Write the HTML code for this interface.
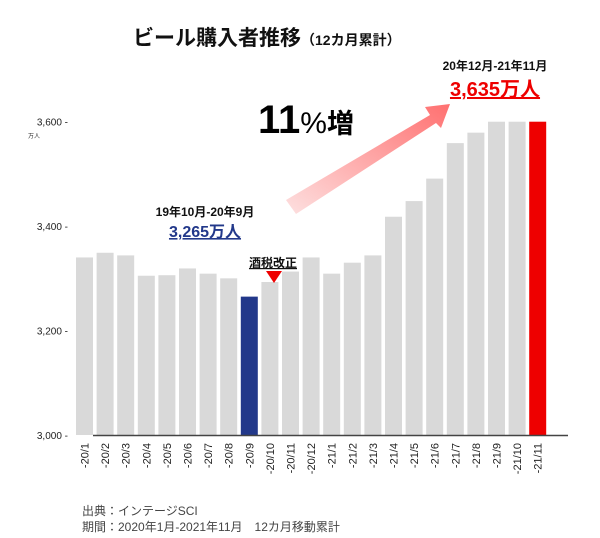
<!DOCTYPE html>
<html><head><meta charset="utf-8"><style>
body{margin:0;background:#fff;font-family:"Liberation Sans","Noto Sans CJK JP",sans-serif;}
svg{display:block}
</style></head><body>
<svg width="600" height="538" viewBox="0 0 600 538">
<defs>
<linearGradient id="ag" x1="0" y1="1" x2="1" y2="0">
<stop offset="0" stop-color="#fde0e0"/><stop offset="1" stop-color="#ff7070"/>
</linearGradient>
</defs>
<text x="133" y="45" font-size="21" font-weight="bold" fill="#111">ビール購入者推移<tspan font-size="14">（12カ月累計）</tspan></text>
<g id="axis"></g>
<g id="bars"></g>
<g id="xlabels"></g>
<text x="28" y="138" font-size="6" fill="#333">万人</text>
<polygon points="286,200 430,115 425,107 450,104 441,128 436,123 296,214" fill="url(#ag)"/>
<text x="258" y="133" font-size="40" font-weight="bold" fill="#000">11<tspan font-size="30" font-weight="normal">%</tspan><tspan font-size="27">増</tspan></text>
<text x="205" y="216" text-anchor="middle" font-size="12" font-weight="bold" fill="#111">19年10月-20年9月</text>
<text x="205" y="237" text-anchor="middle" font-size="16" font-weight="bold" fill="#22388a" text-decoration="underline">3,265万人</text>
<text x="495" y="70" text-anchor="middle" font-size="12" font-weight="bold" fill="#111">20年12月-21年11月</text>
<text x="495" y="96" text-anchor="middle" font-size="20" font-weight="bold" fill="#ee0000" text-decoration="underline">3,635万人</text>
<text x="273" y="267" text-anchor="middle" font-size="12" font-weight="bold" fill="#111" text-decoration="underline">酒税改正</text>
<polygon points="266,271 282,271 274,283" fill="#e00"/>
<text x="82" y="515" font-size="12" fill="#444">出典：インテージSCI</text>
<text x="82" y="531" font-size="12" fill="#444">期間：2020年1月-2021年11月　12カ月移動累計</text>
</svg>
<script>
const categories=["-20/1","-20/2","-20/3","-20/4","-20/5","-20/6","-20/7","-20/8","-20/9","-20/10","-20/11","-20/12","-21/1","-21/2","-21/3","-21/4","-21/5","-21/6","-21/7","-21/8","-21/9","-21/10","-21/11"];
const values=[3340,3349,3344,3305,3306,3319,3309,3300,3265,3293,3313,3340,3309,3330,3344,3418,3448,3491,3559,3579,3600,3600,3600];
const yTicks=[3000,3200,3400,3600];
const yTickLabels=["3,000","3,200","3,400","3,600"];
const ns="http://www.w3.org/2000/svg";
const y=v=>435-(v-3000)*313.3/600;
const x=i=>76+i*20.6;
const bw=17;
function mk(t,a,p){const e=document.createElementNS(ns,t);for(const k in a)e.setAttribute(k,a[k]);p.appendChild(e);return e;}
const ax=document.getElementById('axis');
yTicks.forEach((t,i)=>{
 const tx=mk('text',{x:68,y:y(t)+4,'font-size':10,'text-anchor':'end',fill:'#222'},ax);
 tx.textContent=yTickLabels[i]+" -";
 
 
});
const bg=document.getElementById('bars');
values.forEach((v,i)=>{
 const fill=i===8?'#22388a':(i===values.length-1?'#ee0000':'#d9d9d9');
 const r=mk('rect',{x:x(i),y:y(v),width:bw,height:435-y(v),fill:fill},bg);
 
 
});
const base=mk('line',{x1:93,y1:435.5,x2:568,y2:435.5,stroke:'#444','stroke-width':1.5},bg);


const xl=document.getElementById('xlabels');
categories.forEach((c,i)=>{
 const cx=x(i)+bw/2+4;
 const t=mk('text',{x:cx,y:443,'font-size':11,'text-anchor':'end',fill:'#222',transform:`rotate(-90 ${cx} 443)`},xl);
 t.textContent=c;
 
 
});
</script>
</body></html>
